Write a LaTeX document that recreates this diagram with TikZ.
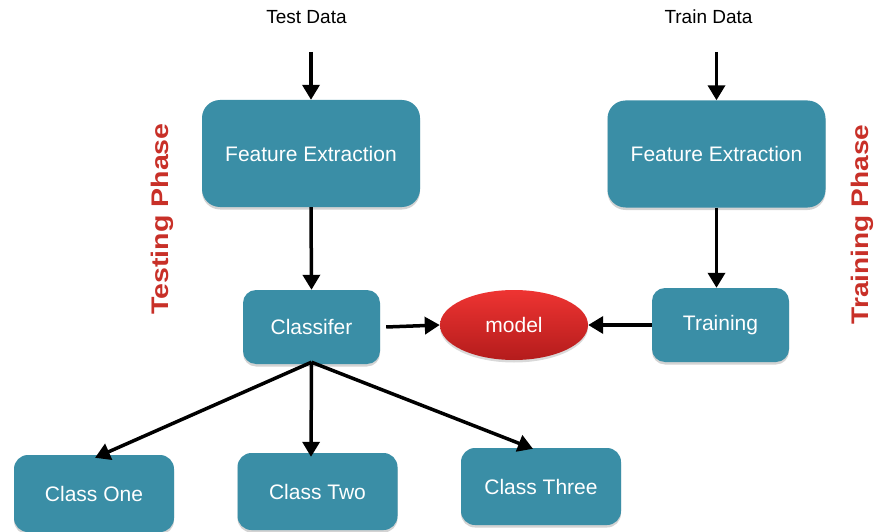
\documentclass[tikz,border=0pt]{standalone}
\usepackage{fontspec}
\setmainfont{Liberation Sans}
\usetikzlibrary{arrows.meta,shapes.geometric,shadows}
\definecolor{boxteal}{RGB}{58,142,166}
\definecolor{phasered}{RGB}{200,48,40}
\definecolor{modeltop}{RGB}{238,52,50}
\definecolor{modelbot}{RGB}{180,28,28}
\begin{document}
\begin{tikzpicture}[x=1pt,y=-1pt,
  stagebox/.style={draw=none, fill=boxteal, text=white, inner sep=0pt,
    font=\fontsize{21}{24}\selectfont, align=center,
    drop shadow={shadow xshift=0pt, shadow yshift=-2.5pt, opacity=0.35}},
  bigbox/.style={stagebox, rounded corners=18pt, minimum width=218pt, minimum height=107pt},
  midbox/.style={stagebox, rounded corners=13pt, minimum width=137pt, minimum height=74pt},
  classbox/.style={stagebox, rounded corners=14pt, minimum width=160pt, minimum height=77pt},
  datalabel/.style={font=\fontsize{19}{22}\selectfont, text=black},
  phaselabel/.style={font=\bfseries\fontsize{24}{28}\selectfont, text=phasered,
    rotate=90, inner sep=0pt},
  arr/.style={line width=3.5pt, -{Triangle[length=15pt,width=17pt]}}
]
\useasboundingbox (0,0) rectangle (876,532);

% input labels
\node[datalabel] (testdata) at (306.5,17) {Test Data};
\node[datalabel] (traindata) at (708.5,17) {Train Data};
\coordinate (testin) at (311,52);
\coordinate (trainin) at (716.5,52);

% phase captions, stretched along their length
\node[phaselabel] (testphase) at (162.5,219) {\scalebox{1.19}[1]{Testing Phase}};
\node[phaselabel] (trainphase) at (862.5,224.5) {\scalebox{1.17}[1]{Training Phase}};

% processing stages
\node[bigbox] (fetest) at (311,153.5) {Feature Extraction};
\node[bigbox] (fetrain) at (716.5,154) {Feature Extraction};
\node[midbox] (cls) at (311.5,327) {Classifer};
\node[midbox] (train) at (720.5,325) {Training};
\node[ellipse, minimum width=148pt, minimum height=70pt, inner sep=0pt,
      top color=modeltop, bottom color=modelbot, text=white,
      font=\fontsize{21}{24}\selectfont,
      drop shadow={shadow xshift=0pt, shadow yshift=-2.5pt, opacity=0.3}] (model) at (514,325) {model};

% output classes
\node[classbox] (c1) at (94,493.5) {Class One};
\node[classbox] (c2) at (317.5,491.5) {Class Two};
\node[classbox] (c3) at (541,486.5) {Class Three};

% connectors
\draw[arr] (testin) -- (fetest.north);
\draw[arr] (trainin) -- (fetrain.north);
\draw[arr] (fetest.south) -- (cls.north);
\draw[arr] (fetrain.south) -- (fetrain.south |- train.north);
\draw[arr] ([xshift=6pt]cls.east) -- (model.west);
\draw[arr] (train.west) -- (model.east);
\draw[arr] ([yshift=2pt]cls.south) -- ([xshift=1pt,yshift=-3pt]c1.north);
\draw[arr] ([yshift=2pt]cls.south) -- ([xshift=-6.5pt,yshift=-4pt]c2.north);
\draw[arr] ([yshift=2pt]cls.south) -- ([xshift=-8pt,yshift=-1pt]c3.north);
\end{tikzpicture}
\end{document}
